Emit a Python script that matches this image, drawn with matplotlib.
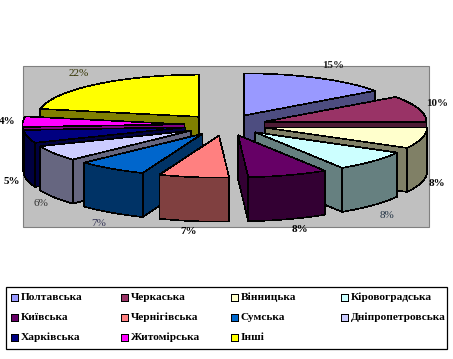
import numpy as np
import matplotlib
matplotlib.use('Agg')
import matplotlib.pyplot as plt
from matplotlib.colors import to_rgb
from matplotlib.patches import Rectangle

regions = ['Полтавська', 'Черкаська', 'Вінницька', 'Кіровоградська',
           'Київська', 'Чернігівська', 'Сумська', 'Дніпропетровська',
           'Харківська', 'Житомірська', 'Інші']
shares = [15, 10, 8, 8, 8, 7, 7, 6, 5, 4, 22]
colors = ['#9999FF', '#993366', '#FFFFCC', '#CCFFFF', '#660066', '#FF8080',
          '#0066CC', '#CCCCFF', '#000080', '#FF00FF', '#FFFF00']

# label placement, pixels of the picture (x, y, bold, colour)
label_pos = [(333, 66, True, '#222222'), (437, 104, True, '#111111'), (437, 184, True, 'black'),
             (387, 216, False, '#223344'), (300, 229, True, 'black'), (189, 232, True, 'black'),
             (99, 224, False, '#333355'), (41, 204, False, '#333333'), (12, 181, True, 'black'),
             (7, 121, True, 'black'), (79, 73, False, '#333300')]

cx, cy = 225.4, 125.0
rx = 162.0
squash = 0.26
explode = 41.0
depth = 44.0

fig = plt.figure(figsize=(4.53, 3.59), dpi=100, facecolor='white')
ax = fig.add_axes([0, 0, 1, 1])
ax.set_xlim(0, 453)
ax.set_ylim(359, 0)
ax.axis('off')

ax.add_patch(Rectangle((23, 66), 406, 161, facecolor='#C0C0C0', edgecolor='#808080', lw=0.8, zorder=0))


def face(xs, ys, col, z):
    ax.fill(xs, ys, facecolor=col, edgecolor='black', lw=0.45, antialiased=False, zorder=z,
            joinstyle='miter')


edges = np.radians(np.cumsum([0] + shares) * 3.6)
mids = (edges[:-1] + edges[1:]) / 2
order = np.argsort(-np.cos(mids))

for z, i in enumerate(order):
    t1, t2 = edges[i], edges[i + 1]
    x0 = cx + explode * np.sin(mids[i])
    y0 = cy - explode * squash * np.cos(mids[i])
    t = np.linspace(t1, t2, 60)
    ax_x = x0 + rx * np.sin(t)
    ax_y = y0 - rx * squash * np.cos(t)
    wall = tuple(c * 0.5 for c in to_rgb(colors[i]))

    # outer wall, front part of the arc only
    front = np.cos(t) < 0
    if front.sum() > 1:
        fx, fy = ax_x[front], ax_y[front]
        face(np.r_[fx, fx[::-1]], np.r_[fy, fy[::-1] + depth], wall, z * 3 + 1)
    # radial walls which face the viewer
    if np.sin(t1) < -1e-6:
        face([x0, ax_x[0], ax_x[0], x0], [y0, ax_y[0], ax_y[0] + depth, y0 + depth], wall, z * 3 + 1)
    if np.sin(t2) > 1e-6:
        face([x0, ax_x[-1], ax_x[-1], x0], [y0, ax_y[-1], ax_y[-1] + depth, y0 + depth], wall, z * 3 + 1)
    # top
    face(np.r_[x0, ax_x], np.r_[y0, ax_y], colors[i], z * 3 + 2)

for s, (lx, ly, bold, col) in zip(shares, label_pos):
    ax.text(lx, ly, '%d%%' % s, family='Liberation Serif', fontsize=8, color=col,
            fontweight='bold' if bold else 'normal', ha='center', va='center', zorder=100)

# legend
ax.add_patch(Rectangle((5.5, 286.5), 441, 62, facecolor='white', edgecolor='black', lw=0.9, zorder=50))
for i, name in enumerate(regions):
    lx = 10.5 + 110 * (i % 4)
    ly = 293.5 + 20 * (i // 4)
    ax.add_patch(Rectangle((lx, ly), 7, 7, facecolor=colors[i], edgecolor='black', lw=0.45,
                           antialiased=False, zorder=51))
    ax.text(lx + 10, ly + 3.5, name, family='Liberation Serif', fontsize=8.2, fontweight='bold',
            color='black', ha='left', va='center', zorder=51)

fig.savefig('out.png', dpi=100)
